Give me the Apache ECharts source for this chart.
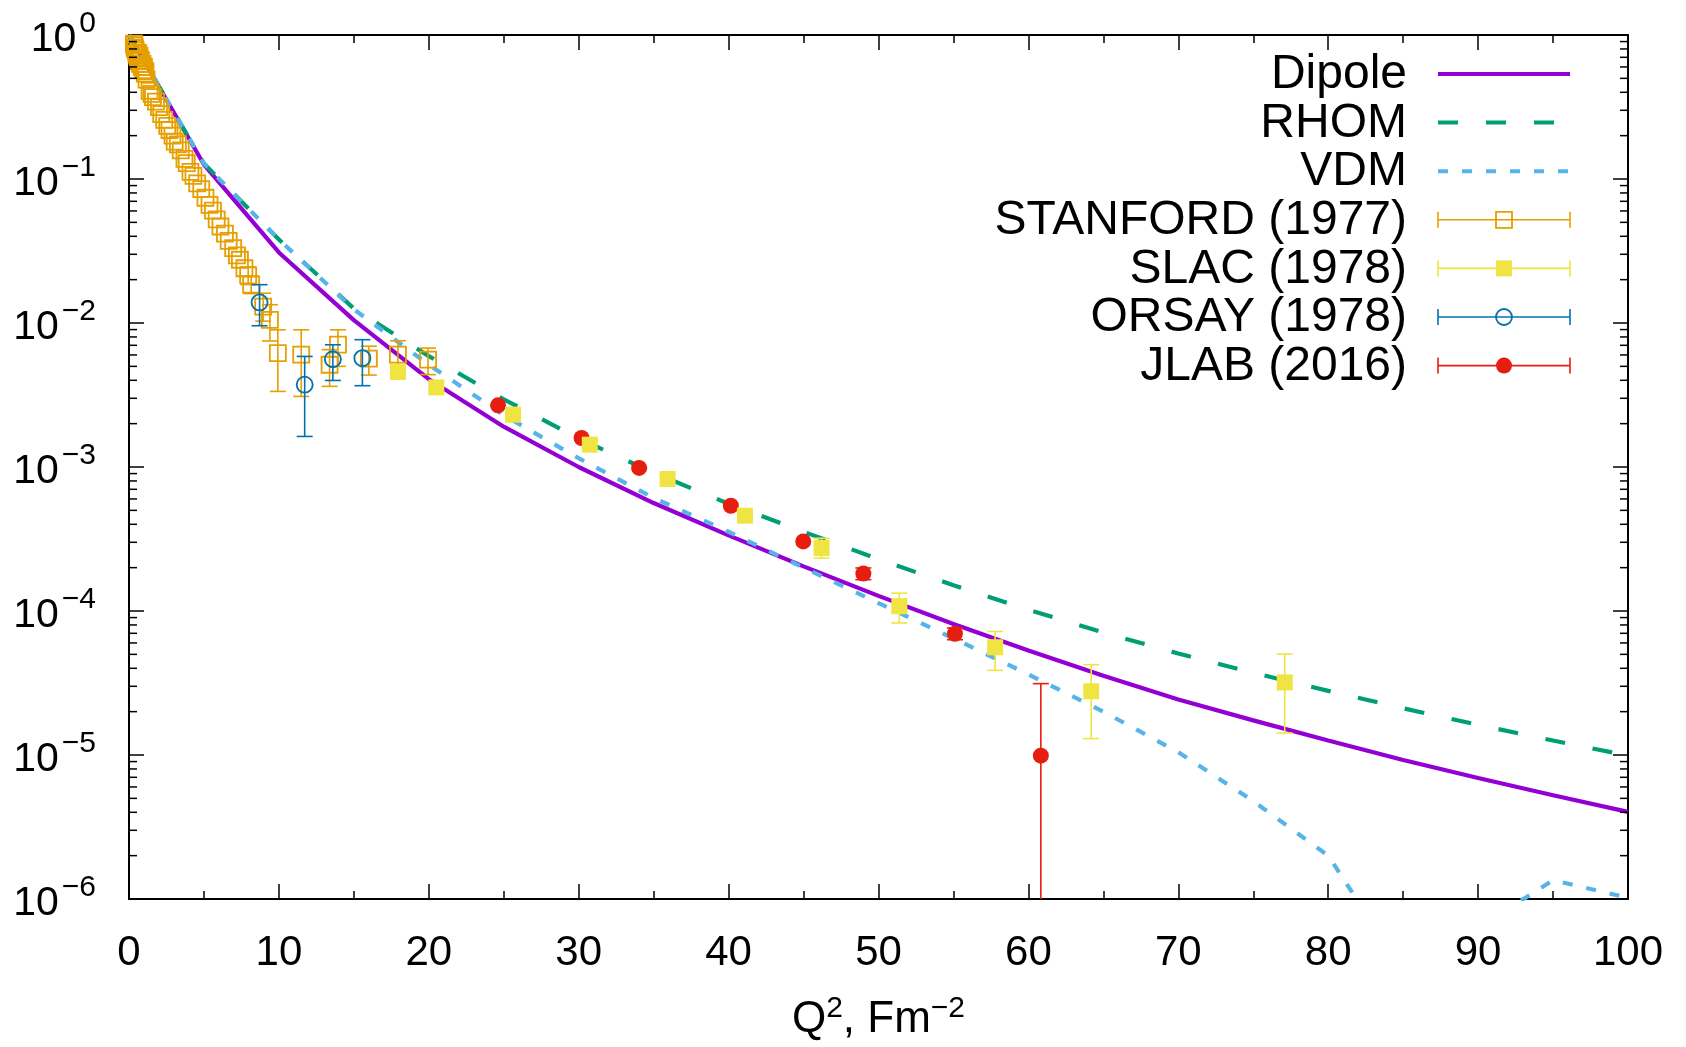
<!DOCTYPE html>
<html>
<head>
<meta charset="utf-8">
<script src="https://cdn.jsdelivr.net/npm/echarts@6/dist/echarts.min.js"></script>
<style>
html,body{margin:0;padding:0;background:#fff;}
#c{width:1686px;height:1047px;}
</style>
</head>
<body>
<div id="c"></div>
<script>
// ---------------- DATA ----------------
// model curves, sampled every 5 Fm^-2
const qModel = [0, 5, 10, 15, 20, 25, 30, 35, 40, 45, 50, 55, 60, 65, 70, 75, 80, 85, 90, 95, 100];
const dipole = [1, 0.126, 0.0309, 0.01047, 0.00407, 0.001905, 0.001, 5.62e-4, 3.35e-4, 2.04e-4, 1.274e-4,
                8.13e-5, 5.31e-5, 3.55e-5, 2.43e-5, 1.74e-5, 1.26e-5, 9.23e-6, 6.92e-6, 5.25e-6, 4.03e-6];
const rhom   = [1, 0.128, 0.0380, 0.01259, 0.00589, 0.00295, 0.00158, 9.12e-4, 5.56e-4, 3.55e-4, 2.29e-4,
                1.51e-4, 1.02e-4, 7.08e-5, 5.07e-5, 3.72e-5, 2.79e-5, 2.11e-5, 1.62e-5, 1.26e-5, 9.9e-6];
const vdm    = [1, 0.128, 0.0380, 0.01245, 0.00513, 0.00229, 0.00115, 6.10e-4, 3.55e-4, 2.0e-4, 1.135e-4,
                6.46e-5, 3.63e-5, 2.0e-5, 1.047e-5, 4.79e-6, 2.0e-6, 3.2e-7, 6.3e-7, 1.35e-6, 1.02e-6];

// measurements: [Q2, value, lower end of error bar, upper end of error bar]
const stanford = [
  [0.33,0.87,null,null],[0.36,0.85,null,null],[0.38,0.82,null,null],[0.41,0.80,null,null],[0.45,0.78,null,null],
  [0.50,0.74,null,null],[0.55,0.72,null,null],[0.60,0.69,null,null],[0.66,0.66,null,null],[0.72,0.63,null,null],
  [0.60,0.75,null,null],[0.70,0.72,null,null],[0.80,0.67,null,null],[0.90,0.63,null,null],[1.00,0.60,null,null],
  [1.10,0.56,null,null],[0.85,0.60,null,null],[0.95,0.57,null,null],[1.05,0.54,null,null],[1.17,0.49,null,null],
  [1.37,0.41,null,null],[1.50,0.39,null,null],[1.60,0.37,null,null],[1.80,0.345,null,null],[2.00,0.316,null,null],
  [2.15,0.282,null,null],[2.35,0.257,null,null],[2.55,0.234,null,null],[2.70,0.219,null,null],[2.90,0.200,null,null],
  [3.05,0.182,null,null],[3.26,0.174,null,null],[3.45,0.158,null,null],[3.70,0.138,null,null],[3.85,0.129,null,null],
  [4.10,0.112,null,null],[4.30,0.105,null,null],[4.55,0.0933,null,null],[4.82,0.0851,null,null],[5.10,0.0741,null,null],
  [5.37,0.0661,null,null],[5.60,0.0603,null,null],[5.85,0.0525,null,null],[6.10,0.0468,null,null],[6.40,0.0417,null,null],
  [6.65,0.0372,null,null],[6.95,0.0331,null,null],[7.20,0.0295,null,null],[7.40,0.0275,null,null],[7.70,0.0240,null,null],
  [7.95,0.0214,0.0185,0.0245],[8.15,0.0185,0.0160,0.0212],[8.95,0.0130,0.0103,0.0161],[9.40,0.0105,0.0075,0.0134],
  [9.93,0.00617,0.00335,0.00897],[11.49,0.00603,0.00309,0.00897],[13.38,0.00513,0.00363,0.00653],
  [13.94,0.00708,0.0050,0.00897],[16.0,0.00566,0.00435,0.0069],[17.94,0.00603,0.00461,0.00753],
  [19.95,0.00556,0.00438,0.0067]
];
const slac = [
  [17.94,0.00457,null,null],[20.5,0.00357,null,null],[25.62,0.00231,null,null],[30.74,0.00143,null,null],
  [35.93,8.26e-4,null,null],[41.09,4.59e-4,null,null],[46.2,2.74e-4,2.33e-4,3.2e-4],[51.39,1.08e-4,8.26e-5,1.33e-4],
  [57.78,5.6e-5,3.87e-5,7.21e-5],[64.19,2.77e-5,1.30e-5,4.24e-5],[77.1,3.19e-5,1.42e-5,5.02e-5]
];
const orsay = [
  [8.71,0.0139,0.00957,0.01845],[11.72,0.00373,0.00163,0.00586],[13.6,0.0056,0.00399,0.00706],[15.57,0.0057,0.00367,0.00766]
];
const jlab = [
  [24.62,0.00268,null,null],[30.19,0.00159,null,null],[34.03,9.85e-4,null,null],[40.15,5.38e-4,null,null],
  [44.98,3.04e-4,null,null],[48.99,1.82e-4,1.65e-4,1.99e-4],[55.1,6.95e-5,6.32e-5,7.62e-5],[60.83,9.9e-6,1e-8,3.13e-5]
];

// axes / ticks
const xMin = 0, xMax = 100, xStep = 10;
const yMin = 1e-6, yMax = 1;
const yMinorTicks = [];
for (let e = -6; e < 0; e++) for (let m = 2; m <= 9; m++) yMinorTicks.push(m * Math.pow(10, e));

const legendNames = ['Dipole', 'RHOM', 'VDM', 'STANFORD (1977)', 'SLAC (1978)', 'ORSAY (1978)', 'JLAB (2016)'];

// ---------------- STYLE ----------------
const FONT = 'Liberation Sans';
const C = {dipole:'#9400d3', rhom:'#009e73', vdm:'#56b4e9', stanford:'#e69f00', slac:'#f0e442', orsay:'#0072b2', jlab:'#e51e10'};
const RHOM_DASH = [20, 28], VDM_DASH = [10, 14];
const MS = 16;   // marker size
const CAP = 16;  // error bar cap width

function pairs(xs, ys) { return xs.map((x, i) => [x, ys[i]]); }

function markerShape(kind, cx, cy, color) {
  const h = MS / 2;
  if (kind === 'openSquare') return {type:'rect', shape:{x:cx-h, y:cy-h, width:MS, height:MS}, style:{fill:'none', stroke:color, lineWidth:1.8}};
  if (kind === 'square') return {type:'rect', shape:{x:cx-h, y:cy-h, width:MS, height:MS}, style:{fill:color, stroke:null}};
  if (kind === 'openCircle') return {type:'circle', shape:{cx:cx, cy:cy, r:h}, style:{fill:'none', stroke:color, lineWidth:1.8}};
  return {type:'circle', shape:{cx:cx, cy:cy, r:h}, style:{fill:color, stroke:null}};
}

function errRender(kind, color) {
  return function (params, api) {
    const x = api.value(0), y = api.value(1), lo = api.value(2), hi = api.value(3);
    const c = api.coord([x, y]);
    const cs = params.coordSys;
    const children = [];
    if (isFinite(lo) && isFinite(hi) && lo > 0 && hi > 0) {
      let yl = api.coord([x, lo])[1];
      const yh = api.coord([x, hi])[1];
      const bottom = cs.y + cs.height;
      const showLowCap = yl <= bottom;
      if (yl > bottom) yl = bottom;
      const ls = {stroke: color, lineWidth: 1.6};
      children.push({type:'line', shape:{x1:c[0], y1:yl, x2:c[0], y2:yh}, style:ls});
      children.push({type:'line', shape:{x1:c[0]-CAP/2, y1:yh, x2:c[0]+CAP/2, y2:yh}, style:ls});
      if (showLowCap) children.push({type:'line', shape:{x1:c[0]-CAP/2, y1:yl, x2:c[0]+CAP/2, y2:yl}, style:ls});
    }
    children.push(markerShape(kind, c[0], c[1], color));
    return {type:'group', children: children};
  };
}

function minorTickRender(params, api) {
  const v = api.value(1);
  const l = api.coord([xMin, v]), r = api.coord([xMax, v]);
  const ls = {stroke:'#000', lineWidth:1.5};
  return {type:'group', children:[
    {type:'line', shape:{x1:l[0], y1:l[1], x2:l[0]+8, y2:l[1]}, style:ls},
    {type:'line', shape:{x1:r[0], y1:r[1], x2:r[0]-8, y2:r[1]}, style:ls}
  ]};
}

// ---------------- LEGEND (drawn as graphic, gnuplot style) ----------------
const LG = {textRight:1407, x1:1438, x2:1570, y0:74, dy:48.6};
const legendSpec = [
  {kind:'line', color:C.dipole, dash:null},
  {kind:'line', color:C.rhom, dash:RHOM_DASH},
  {kind:'line', color:C.vdm, dash:VDM_DASH},
  {kind:'err', marker:'openSquare', color:C.stanford},
  {kind:'err', marker:'square', color:C.slac},
  {kind:'err', marker:'openCircle', color:C.orsay},
  {kind:'err', marker:'circle', color:C.jlab}
];
const graphics = [];
legendSpec.forEach((s, i) => {
  const y = LG.y0 + i * LG.dy;
  graphics.push({type:'text', x:LG.textRight, y:y + 1, silent:true,
    style:{text:legendNames[i], font:'48px "' + FONT + '"', fill:'#000', align:'right', verticalAlign:'middle', textAlign:'right', textVerticalAlign:'middle'}});
  if (s.kind === 'line') {
    graphics.push({type:'line', silent:true, shape:{x1:LG.x1, y1:y, x2:LG.x2, y2:y},
      style:{stroke:s.color, lineWidth:4, lineDash:s.dash || null, lineCap:'butt'}});
  } else {
    const ls = {stroke:s.color, lineWidth:1.6};
    graphics.push({type:'line', silent:true, shape:{x1:LG.x1, y1:y, x2:LG.x2, y2:y}, style:ls});
    graphics.push({type:'line', silent:true, shape:{x1:LG.x1, y1:y-CAP/2, x2:LG.x1, y2:y+CAP/2}, style:ls});
    graphics.push({type:'line', silent:true, shape:{x1:LG.x2, y1:y-CAP/2, x2:LG.x2, y2:y+CAP/2}, style:ls});
    const m = markerShape(s.marker, (LG.x1 + LG.x2) / 2, y, s.color);
    m.silent = true;
    graphics.push(m);
  }
});

// ---------------- CHART ----------------
const axisLineStyle = {color:'#000', width:2};
const tickStyle = {color:'#000', width:1.5};

function xAxisCfg(pos, labels) {
  const cfg = {
    type:'value', min:xMin, max:xMax, interval:xStep, position:pos,
    axisLine:{show:true, onZero:false, lineStyle:axisLineStyle},
    axisTick:{show:true, inside:true, length:15, lineStyle:tickStyle},
    minorTick:{show:true, splitNumber:2, length:8, lineStyle:tickStyle},
    splitLine:{show:false}, minorSplitLine:{show:false},
    axisLabel:{show:labels, fontSize:42, fontFamily:FONT, color:'#000', margin:33}
  };
  if (labels) {
    cfg.name = '{b|Q}{s|2}{b|, Fm}{s|\u22122}';
    cfg.nameLocation = 'middle';
    cfg.nameGap = 95;
    cfg.nameTextStyle = {
      color:'#000', fontFamily:FONT,
      rich:{
        b:{fontSize:44, lineHeight:52, fontFamily:FONT, color:'#000'},
        s:{fontSize:30, lineHeight:24, verticalAlign:'top', fontFamily:FONT, color:'#000'}
      }
    };
  }
  return cfg;
}
function yAxisCfg(pos, labels) {
  return {
    type:'log', logBase:10, min:yMin, max:yMax, splitNumber:6, position:pos,
    axisLine:{show:true, onZero:false, lineStyle:axisLineStyle},
    axisTick:{show:true, inside:true, length:15, lineStyle:tickStyle},
    minorTick:{show:false},
    splitLine:{show:false},
    axisLabel:{
      show:labels, margin:33, padding:[10,0,0,0],
      formatter:function (v) {
        const e = Math.round(Math.log10(v));
        return '{b|10}{s|' + (e < 0 ? '\u2212' + (-e) : String(e)) + '}';
      },
      rich:{
        b:{fontSize:41, lineHeight:62, fontFamily:FONT, color:'#000', padding:[0,3,0,0]},
        s:{fontSize:30, lineHeight:28, verticalAlign:'top', fontFamily:FONT, color:'#000'}
      }
    }
  };
}

const option = {
  animation:false,
  backgroundColor:'#fff',
  textStyle:{fontFamily:FONT},
  grid:{left:129, right:58, top:35, bottom:148, containLabel:false, outerBoundsMode:'none'},
  xAxis:[xAxisCfg('bottom', true), xAxisCfg('top', false)],
  yAxis:[yAxisCfg('left', true), yAxisCfg('right', false)],
  graphic:graphics,
  series:[
    {name:'Dipole', type:'line', data:pairs(qModel, dipole), symbol:'none', showSymbol:false, clip:true, silent:true, z:2,
     lineStyle:{color:C.dipole, width:4.2}},
    {name:'RHOM', type:'line', data:pairs(qModel, rhom), symbol:'none', showSymbol:false, clip:true, silent:true, z:2,
     lineStyle:{color:C.rhom, width:4.2, type:RHOM_DASH, cap:'butt'}},
    {name:'VDM', type:'line', data:pairs(qModel, vdm), symbol:'none', showSymbol:false, clip:true, silent:true, z:2,
     lineStyle:{color:C.vdm, width:4.2, type:VDM_DASH, cap:'butt'}},
    {name:'STANFORD (1977)', type:'custom', data:stanford, dimensions:['x','y','lo','hi'], encode:{x:0, y:1},
     renderItem:errRender('openSquare', C.stanford), silent:true, z:3},
    {name:'ORSAY (1978)', type:'custom', data:orsay, dimensions:['x','y','lo','hi'], encode:{x:0, y:1},
     renderItem:errRender('openCircle', C.orsay), silent:true, z:4},
    {name:'JLAB (2016)', type:'custom', data:jlab, dimensions:['x','y','lo','hi'], encode:{x:0, y:1},
     renderItem:errRender('circle', C.jlab), silent:true, z:5, clip:true},
    {name:'SLAC (1978)', type:'custom', data:slac, dimensions:['x','y','lo','hi'], encode:{x:0, y:1},
     renderItem:errRender('square', C.slac), silent:true, z:6},
    {name:'minor ticks', type:'custom', data:yMinorTicks.map(v => [xMin, v]), encode:{x:0, y:1},
     renderItem:minorTickRender, silent:true, z:10}
  ]
};

const chart = echarts.init(document.getElementById('c'), null, {renderer:'canvas', width:1686, height:1047});
chart.setOption(option);
</script>
</body>
</html>
